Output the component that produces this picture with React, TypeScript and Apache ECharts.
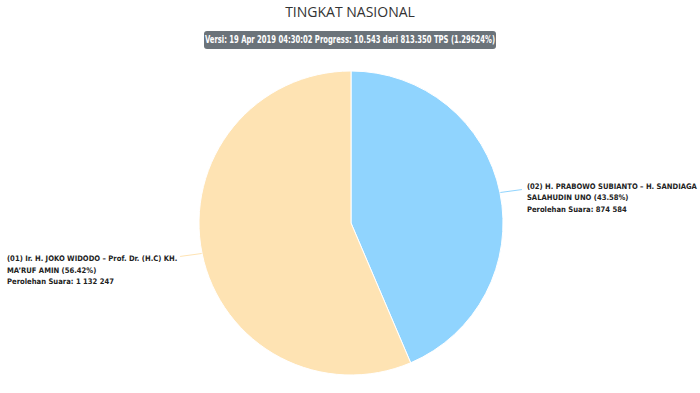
import React, { useEffect, useRef } from "react";
import * as echarts from "echarts";

const titleText = "TINGKAT NASIONAL";
const subtitleText =
  "Versi: 19 Apr 2019 04:30:02 Progress: 10.543 dari 813.350 TPS (1.29624%)";
const candidateLine1 = [
  "(02) H. PRABOWO SUBIANTO – H. SANDIAGA",
  "(01) Ir. H. JOKO WIDODO – Prof. Dr. (H.C) KH.",
];
const candidateLine2 = ["SALAHUDIN UNO", "MA’RUF AMIN"];
const votes = [874584, 1132247];
const colors = ["#90d4fe", "#fee3b3"];

const fmtVotes = (v: number) =>
  String(v).replace(/\B(?=(\d{3})+(?!\d))/g, " ");

export default function App() {
  const ref = useRef<HTMLDivElement>(null);
  useEffect(() => {
    if (!ref.current) return;
    const chart = echarts.init(ref.current, null, { renderer: "svg" });
    const labelFont = "'DejaVu Sans Condensed', sans-serif";
    chart.setOption({
      animation: false,
      backgroundColor: "#ffffff",
      title: [
        {
          text: titleText,
          left: "center",
          top: -1,
          textStyle: {
            fontFamily: "'Open Sans', sans-serif",
            fontSize: 14,
            fontWeight: "normal",
            color: "#333333",
          },
        },
      ],
      graphic: [
        {
          type: "group",
          left: "center",
          top: 31,
          children: [
            {
              type: "rect",
              shape: { x: 0, y: 0, width: 292, height: 18, r: 3 },
              style: { fill: "#6b737a" },
            },
            {
              type: "text",
              x: 146,
              y: 9,
              scaleX: 0.76,
              style: {
                text: subtitleText,
                fill: "#ffffff",
                font: "bold 10px 'DejaVu Sans Condensed', sans-serif",
                align: "center",
                verticalAlign: "middle",
              },
            },
          ],
        },
      ],
      series: [
        {
          type: "pie",
          center: [351, 223],
          radius: 152,
          startAngle: 90,
          clockwise: true,
          percentPrecision: 2,
          itemStyle: { borderColor: "#ffffff", borderWidth: 1 },
          data: votes.map((v, i) => ({
            value: v,
            name: candidateLine1[i],
            itemStyle: { color: colors[i] },
          })),
          label: {
            show: true,
            position: "outside",
            fontFamily: labelFont,
            fontSize: 7.6,
            fontWeight: "bold",
            color: "#222222",
            lineHeight: 11.5,
            align: "left",
            overflow: "none",
            width: 300,
            formatter: (p: any) =>
              `${candidateLine1[p.dataIndex]}\n${candidateLine2[p.dataIndex]} (${p.percent.toFixed(
                2
              )}%)\nPerolehan Suara: ${fmtVotes(p.value)}`,
          },
          labelLine: { show: true, length: 10, length2: 10, lineStyle: { width: 1 } },
          labelLayout: (p: any) => {
            const pts = p.labelLinePoints;
            if (!pts) return {};
            const [x0, y0] = pts[0];
            if (x0 > 351) {
              return {
                x: x0 + 27,
                y: y0 + 5,
                align: "left",
                verticalAlign: "middle",
                labelLinePoints: [
                  [x0, y0],
                  [x0 + 22, y0 - 3],
                  [x0 + 22, y0 - 3],
                ],
              };
            }
            return {
              x: 7,
              y: y0 + 17,
              align: "left",
              verticalAlign: "middle",
              labelLinePoints: [
                [x0, y0],
                [x0 - 22, y0 + 3],
                [x0 - 22, y0 + 3],
              ],
            };
          },
        },
      ],
    });
    return () => chart.dispose();
  }, []);
  return (
    <div
      ref={ref}
      style={{ position: "fixed", left: 0, top: 0, width: 700, height: 393 }}
    />
  );
}
